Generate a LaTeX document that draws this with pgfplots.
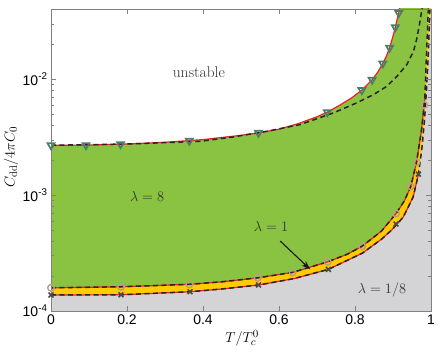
\documentclass[border=0pt]{standalone}
\usepackage{fontspec}
\newfontfamily\hel{Liberation Sans}
\usepackage{pgfplots}
\pgfplotsset{compat=1.18}
\usetikzlibrary{arrows.meta}
\definecolor{regreen}{HTML}{8AC242}
\definecolor{reyellow}{HTML}{FFCC00}
\definecolor{regray}{HTML}{D4D4D6}
\definecolor{rered}{HTML}{EE2024}
\definecolor{triteal}{HTML}{4C7D6B}
\definecolor{circtan}{HTML}{B8A07E}
\definecolor{crossgray}{HTML}{4A4A4A}
\definecolor{axgray}{HTML}{808080}

\begin{document}
\begin{tikzpicture}
\begin{axis}[
  scale only axis, width=380pt, height=302pt,
  ymode=log, xmin=0, xmax=1, ymin=1e-4, ymax=0.0402,
  xtick={0,0.2,0.4,0.6,0.8,1}, xticklabels={0,0.2,0.4,0.6,0.8,1},
  ytick={1e-4,1e-3,1e-2},
  yticklabels={{10\textsuperscript{-4}},{10\textsuperscript{-3}},{10\textsuperscript{-2}}},
  minor ytick={2e-4,3e-4,4e-4,5e-4,6e-4,7e-4,8e-4,9e-4,2e-3,3e-3,4e-3,5e-3,6e-3,7e-3,8e-3,9e-3,2e-2,3e-2,4e-2},
  tick align=inside, major tick length=5pt, minor tick length=3pt,
  axis line style={draw=axgray}, every tick/.style={axgray},
  tick label style={font=\hel\fontsize{14}{16}\selectfont},
  xlabel={$T/T_c^0$}, ylabel={$C_{\mathrm{dd}}/4\pi C_0$},
  every axis x label/.style={at={(axis description cs:0.503,0)}, anchor=center,
    yshift=-27pt, font=\fontsize{15}{18}\selectfont},
  every axis y label/.style={at={(axis description cs:0,0.51)}, xshift=-40pt,
    rotate=90, anchor=center, font=\fontsize{15}{18}\selectfont},
  axis on top,
]
% regions
\addplot[draw=none, fill=regreen] coordinates {
  (0,2.685e-3)(0.1,2.698e-3)(0.2,2.754e-3)(0.3,2.851e-3)(0.4,3.006e-3)(0.5,3.273e-3)
  (0.55,3.451e-3)(0.6,3.698e-3)(0.65,4.121e-3)(0.7,4.732e-3)(0.727,5.188e-3)(0.76,5.957e-3)
  (0.79,6.839e-3)(0.818,8.035e-3)(0.845,9.863e-3)(0.86,1.148e-2)(0.873,1.361e-2)(0.883,1.585e-2)
  (0.892,1.905e-2)(0.9,2.344e-2)(0.907,2.884e-2)(0.913,3.508e-2)(0.918,4.169e-2)(0.92,0.05)
  (1,0.05)(1,1e-4)(0,1e-4)} -- cycle;
\addplot[draw=none, fill=reyellow] coordinates {
  (0,1.585e-4)(0.184,1.618e-4)(0.364,1.698e-4)(0.45,1.786e-4)(0.544,1.932e-4)(0.636,2.153e-4)
  (0.728,2.655e-4)(0.78,3.090e-4)(0.819,3.622e-4)(0.87,4.898e-4)(0.908,6.918e-4)(0.93,8.913e-4)
  (0.947,1.189e-3)(0.962,1.923e-3)(0.975,3.631e-3)(0.982,5.984e-3)(0.984,7.194e-3)
  (0.988,1.585e-2)(0.993,4.018e-2)(0.995,0.05)(1,0.05)(1,1e-4)(0,1e-4)} -- cycle;
\addplot[draw=none, fill=regray] coordinates {
  (0,1.374e-4)(0.184,1.380e-4)(0.366,1.466e-4)(0.45,1.549e-4)(0.546,1.675e-4)(0.64,1.905e-4)
  (0.73,2.286e-4)(0.82,3.162e-4)(0.87,4.169e-4)(0.897,5.012e-4)(0.927,6.457e-4)(0.953,9.616e-4)
  (0.967,1.514e-3)(0.976,2.512e-3)(0.983,4.467e-3)(0.988,7.943e-3)(0.992,1.413e-2)(0.995,2.512e-2)
  (0.997,4.018e-2)(0.998,0.05)(1,0.05)(1,1e-4)(0,1e-4)} -- cycle;
% numerical boundaries (red)
\addplot[rered, line width=1.2pt] coordinates {
  (0,2.685e-3)(0.1,2.698e-3)(0.2,2.754e-3)(0.3,2.851e-3)(0.4,3.006e-3)(0.5,3.273e-3)
  (0.55,3.451e-3)(0.6,3.698e-3)(0.65,4.121e-3)(0.7,4.732e-3)(0.727,5.188e-3)(0.76,5.957e-3)
  (0.79,6.839e-3)(0.818,8.035e-3)(0.845,9.863e-3)(0.86,1.148e-2)(0.873,1.361e-2)(0.883,1.585e-2)
  (0.892,1.905e-2)(0.9,2.344e-2)(0.907,2.884e-2)(0.913,3.508e-2)(0.918,4.169e-2)};
\addplot[rered, line width=1.2pt] coordinates {
  (0,1.585e-4)(0.184,1.618e-4)(0.364,1.698e-4)(0.45,1.786e-4)(0.544,1.932e-4)(0.636,2.153e-4)
  (0.728,2.655e-4)(0.78,3.090e-4)(0.819,3.622e-4)(0.87,4.898e-4)(0.908,6.918e-4)(0.93,8.913e-4)
  (0.947,1.189e-3)(0.962,1.923e-3)(0.975,3.631e-3)(0.982,5.984e-3)(0.984,7.194e-3)};
\addplot[rered, line width=1.2pt] coordinates {
  (0,1.374e-4)(0.184,1.380e-4)(0.366,1.466e-4)(0.45,1.549e-4)(0.546,1.675e-4)(0.64,1.905e-4)
  (0.73,2.286e-4)(0.82,3.162e-4)(0.87,4.169e-4)(0.897,5.012e-4)(0.927,6.457e-4)(0.953,9.616e-4)
  (0.967,1.514e-3)};
% analytic boundaries (dashed)
\addplot[black!85, line width=1.5pt, dash pattern=on 5pt off 3.5pt] coordinates {
  (0,2.685e-3)(0.2,2.754e-3)(0.392,2.904e-3)(0.48,3.170e-3)(0.568,3.548e-3)(0.655,4.046e-3)
  (0.743,5.105e-3)(0.804,6.223e-3)(0.848,7.328e-3)(0.883,8.630e-3)(0.91,1.052e-2)(0.936,1.327e-2)
  (0.954,1.738e-2)(0.962,2.188e-2)(0.969,2.884e-2)(0.976,3.981e-2)(0.98,0.05)};
\addplot[black!85, line width=1.5pt, dash pattern=on 5pt off 3.5pt] coordinates {
  (0,1.585e-4)(0.184,1.618e-4)(0.364,1.698e-4)(0.45,1.786e-4)(0.544,1.932e-4)(0.636,2.153e-4)
  (0.728,2.655e-4)(0.78,3.090e-4)(0.819,3.622e-4)(0.87,4.898e-4)(0.908,6.918e-4)(0.93,8.913e-4)
  (0.947,1.189e-3)(0.962,1.923e-3)(0.975,3.631e-3)(0.982,5.984e-3)(0.984,7.194e-3)
  (0.988,1.585e-2)(0.993,4.018e-2)(0.995,0.05)};
\addplot[black!85, line width=1.5pt, dash pattern=on 5pt off 3.5pt] coordinates {
  (0,1.374e-4)(0.184,1.380e-4)(0.366,1.466e-4)(0.45,1.549e-4)(0.546,1.675e-4)(0.64,1.905e-4)
  (0.73,2.286e-4)(0.82,3.162e-4)(0.87,4.169e-4)(0.897,5.012e-4)(0.927,6.457e-4)(0.953,9.616e-4)
  (0.967,1.514e-3)(0.976,2.512e-3)(0.983,4.467e-3)(0.988,7.943e-3)(0.992,1.413e-2)(0.995,2.512e-2)
  (0.997,4.018e-2)(0.998,0.05)};
% markers
\addplot[only marks, mark=triangle, mark size=4pt,
  mark options={rotate=180, draw=triteal, line width=1.7pt, fill=none}] coordinates {
  (0,2.685e-3)(0.092,2.694e-3)(0.183,2.745e-3)(0.364,2.938e-3)(0.546,3.44e-3)(0.727,5.188e-3)
  (0.818,8.035e-3)(0.845,9.863e-3)(0.873,1.361e-2)(0.891,1.862e-2)(0.906,2.80e-2)(0.915,3.715e-2)};
\addplot[only marks, mark=o, mark size=3.3pt,
  mark options={draw=circtan, line width=1.4pt, fill=none}] coordinates {
  (0,1.585e-4)(0.184,1.618e-4)(0.364,1.698e-4)(0.544,1.932e-4)(0.636,2.153e-4)(0.728,2.655e-4)
  (0.819,3.622e-4)(0.908,6.918e-4)(0.947,1.189e-3)(0.962,1.923e-3)(0.982,5.984e-3)};
\addplot[only marks, mark=x, mark size=3.4pt,
  mark options={draw=crossgray, line width=1.6pt}] coordinates {
  (0,1.374e-4)(0.184,1.380e-4)(0.366,1.466e-4)(0.546,1.675e-4)(0.73,2.286e-4)(0.908,5.623e-4)
  (0.967,1.514e-3)};
% annotations
\draw[-{Stealth[length=9pt,width=6pt]}, line width=1.1pt, black!90]
  (axis cs:0.603,4.018e-4) -- (axis cs:0.682,2.286e-4);
\node[font=\fontsize{15.5}{18}\selectfont, text=black!80] at (axis cs:0.389,1.156e-2) {unstable};
\node[font=\fontsize{15.5}{18}\selectfont, text=black!80] at (axis cs:0.253,9.75e-4) {$\lambda=8$};
\node[font=\fontsize{15.5}{18}\selectfont, text=black!80] at (axis cs:0.579,5.38e-4) {$\lambda=1$};
\node[font=\fontsize{15.5}{18}\selectfont, text=black!80] at (axis cs:0.871,1.517e-4) {$\lambda=1/8$};
\end{axis}
\path ([shift={(-51pt,-41pt)}]current axis.south west) rectangle ([shift={(12pt,9pt)}]current axis.north east);
\end{tikzpicture}
\end{document}
